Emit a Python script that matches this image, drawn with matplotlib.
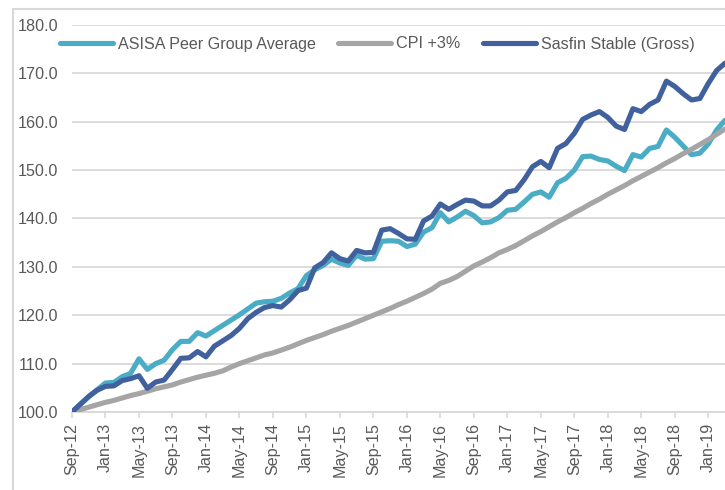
import numpy as np
import matplotlib.pyplot as plt
from matplotlib.patches import Rectangle

plt.rcParams['font.family'] = ['Liberation Sans', 'DejaVu Sans']

# monthly index values, Sep-12 .. Mar-19
asisa = [100.0, 101.6, 103.2, 104.6, 106.0, 106.1, 107.3, 108.0, 111.0, 108.8,
         110.0, 110.7, 112.9, 114.6, 114.6, 116.4, 115.7, 116.8, 117.9, 119.0,
         120.1, 121.3, 122.5, 122.8, 122.9, 123.5, 124.6, 125.5, 128.2, 129.4,
         130.3, 131.6, 130.8, 130.3, 132.4, 131.6, 131.7, 135.3, 135.4, 135.3,
         134.2, 134.7, 137.2, 138.1, 141.2, 139.3, 140.3, 141.5, 140.6, 139.1,
         139.3, 140.2, 141.7, 141.9, 143.4, 145.0, 145.5, 144.4, 147.4, 148.3,
         150.0, 152.8, 152.9, 152.2, 151.9, 150.8, 149.9, 153.2, 152.7, 154.5,
         154.9, 158.3, 156.8, 155.0, 153.2, 153.5, 155.4, 158.3, 160.3]

cpi = [100.0, 100.5, 101.0, 101.5, 102.0, 102.4, 102.9, 103.4, 103.8, 104.3,
       104.8, 105.2, 105.6, 106.2, 106.7, 107.2, 107.6, 108.0, 108.5, 109.3,
       110.0, 110.6, 111.2, 111.8, 112.2, 112.8, 113.4, 114.1, 114.8, 115.4,
       116.0, 116.7, 117.3, 117.9, 118.6, 119.3, 120.0, 120.7, 121.4, 122.2,
       122.9, 123.7, 124.5, 125.4, 126.6, 127.2, 128.0, 129.1, 130.2, 131.0,
       131.9, 132.9, 133.6, 134.4, 135.4, 136.4, 137.3, 138.3, 139.3, 140.2,
       141.2, 142.1, 143.1, 144.0, 145.0, 145.9, 146.8, 147.8, 148.7, 149.6,
       150.5, 151.5, 152.4, 153.4, 154.3, 155.3, 156.3, 157.4, 158.5]

sasfin = [100.0, 101.6, 103.2, 104.5, 105.3, 105.4, 106.5, 106.9, 107.5, 104.9,
          106.2, 106.6, 108.8, 111.1, 111.2, 112.5, 111.4, 113.6, 114.7, 115.8,
          117.3, 119.3, 120.6, 121.6, 122.0, 121.7, 123.2, 125.1, 125.6, 129.8,
          130.9, 132.9, 131.7, 131.2, 133.4, 132.9, 133.0, 137.6, 137.9, 136.9,
          135.8, 135.7, 139.5, 140.5, 143.0, 141.9, 142.9, 143.8, 143.6, 142.6,
          142.6, 143.8, 145.5, 145.8, 148.0, 150.7, 151.8, 150.5, 154.5, 155.5,
          157.6, 160.5, 161.4, 162.1, 160.9, 159.1, 158.4, 162.7, 162.1, 163.6,
          164.5, 168.4, 167.3, 165.8, 164.5, 164.8, 167.9, 170.6, 172.1]

tick_labels = ['Sep-12', 'Jan-13', 'May-13', 'Sep-13', 'Jan-14', 'May-14', 'Sep-14',
               'Jan-15', 'May-15', 'Sep-15', 'Jan-16', 'May-16', 'Sep-16', 'Jan-17',
               'May-17', 'Sep-17', 'Jan-18', 'May-18', 'Sep-18', 'Jan-19']

x = np.arange(len(asisa))
txt = '#595959'

fig = plt.figure(figsize=(7.25, 4.9), dpi=100)
# chart area border
fig.patches.append(Rectangle((13 / 725, -0.1), 1.2, 1.1 - 9 / 490, transform=fig.transFigure,
                             fill=False, edgecolor='#d9d9d9', linewidth=1.5))
ax = fig.add_axes([72 / 725, 1 - 412 / 490, 1 - 72 / 725, (412 - 25) / 490])

ax.plot(x, asisa, color='#4bacc6', lw=3.7, solid_capstyle='round', solid_joinstyle='round',
        label='ASISA Peer Group Average', zorder=3)
ax.plot(x, cpi, color='#a5a5a5', lw=3.7, solid_capstyle='round', solid_joinstyle='round',
        label='CPI +3%', zorder=3)
ax.plot(x, sasfin, color='#41609e', lw=3.7, solid_capstyle='round', solid_joinstyle='round',
        label='Sasfin Stable (Gross)', zorder=4)

ax.set_xlim(0, len(x) - 1)
ax.set_ylim(100, 180)
ax.set_yticks(np.arange(100, 181, 10))
ax.set_yticklabels(['%.1f' % v for v in np.arange(100, 181, 10)])
ax.set_xticks(np.arange(0, len(x), 4))
ax.set_xticklabels(tick_labels, rotation=90)

ax.grid(axis='y', color='#d9d9d9', lw=1.3)
ax.set_axisbelow(True)
for s in ['top', 'right', 'left']:
    ax.spines[s].set_visible(False)
ax.spines['bottom'].set_color('#d9d9d9')
ax.spines['bottom'].set_linewidth(1.3)
ax.tick_params(axis='y', length=0, pad=10, labelsize=11.6, labelcolor=txt)
ax.tick_params(axis='x', length=4, width=1.2, color='#d9d9d9', pad=4, labelsize=11.6, labelcolor=txt)
for lab in ax.get_yticklabels():
    lab.set_clip_on(False)

fig.legend(loc='center', bbox_to_anchor=(0.52, 1 - 44 / 490), ncol=3, frameon=False,
           fontsize=11.6, labelcolor=txt, handlelength=3.3, handletextpad=0.3,
           columnspacing=1.4)

fig.savefig('out.png', dpi=100)
